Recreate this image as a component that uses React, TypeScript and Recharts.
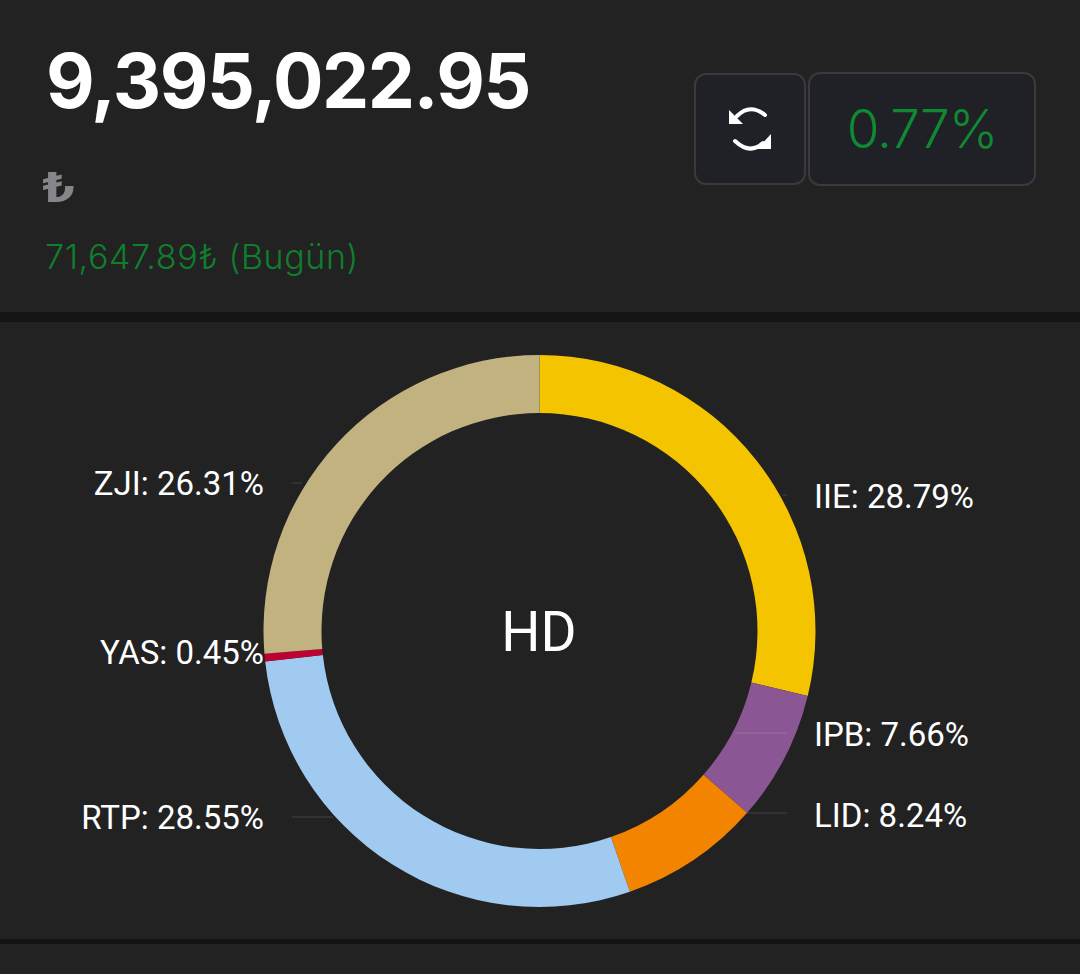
import { PieChart, Pie, Cell } from "recharts";

const NAMES = ["IIE", "IPB", "LID", "RTP", "YAS", "ZJI"];
const SHARES = [28.79, 7.66, 8.24, 28.55, 0.45, 26.31];
const COLORS = ["#F4C400", "#8A5794", "#F38400", "#A1CAF1", "#BE0032", "#C2B280"];

const chartData = NAMES.map((name, i) => ({ name, value: SHARES[i] }));

// label layout: text baseline, leader line y and where the leader reaches the slice
const LABEL_LAYOUT: Record<string, { y: number; lineY: number; lineEnd: number }> = {
  IIE: { y: 508, lineY: 495, lineEnd: 783 },
  IPB: { y: 746, lineY: 733, lineEnd: 735 },
  LID: { y: 827, lineY: 813, lineEnd: 747 },
  RTP: { y: 829, lineY: 817, lineEnd: 333 },
  YAS: { y: 664, lineY: 652, lineEnd: 264 },
  ZJI: { y: 495, lineY: 483, lineEnd: 302 },
};

function renderLabel(props: any) {
  const { name, value, cx } = props;
  const layout = LABEL_LAYOUT[name];
  const right = layout.lineEnd > cx;
  const lineStart = right ? 787 : 292;
  return (
    <g>
      {name !== "YAS" && (
        <line
          x1={lineStart}
          x2={layout.lineEnd}
          y1={layout.lineY}
          y2={layout.lineY}
          stroke="#ffffff"
          strokeOpacity={0.1}
          strokeWidth={1.5}
        />
      )}
      <text
        x={right ? 814 : 264}
        y={layout.y}
        textAnchor={right ? "start" : "end"}
        fill="#ffffff"
        fontFamily="Roboto"
        fontSize={33}
      >
        {`${name}: ${value.toFixed(2)}%`}
      </text>
    </g>
  );
}

export default function App() {
  return (
    <div style={{ position: "absolute", left: 0, top: 0, width: 1080, height: 974, background: "#222222", overflow: "hidden" }}>
      <div style={{ position: "absolute", left: 46, top: 35, fontFamily: "Inter", fontWeight: 700, fontSize: 75, lineHeight: "92px", color: "#fff", letterSpacing: -1.5, whiteSpace: "nowrap" }}>
        9,395,022.95
      </div>
      <div style={{ position: "absolute", left: 42, top: 165, fontFamily: "Roboto", fontWeight: 700, fontSize: 42, lineHeight: "46px", color: "#85868c", transform: "scaleX(1.35)", transformOrigin: "left" }}>
        ₺
      </div>
      <div style={{ position: "absolute", left: 45, top: 237, fontFamily: "Inter", fontWeight: 300, fontSize: 34, lineHeight: "40px", color: "#0f7f2e", letterSpacing: 0.6, whiteSpace: "nowrap" }}>
        71,647.89₺ (Bugün)
      </div>

      <div style={{ position: "absolute", left: 694, top: 73, width: 108, height: 108, background: "#1F2126", border: "2px solid #3a3a3c", borderRadius: 12 }}>
        <svg width={108} height={108} viewBox="0 0 108 108">
          <path d="M41 41 Q54 28 69 40" fill="none" stroke="#fff" strokeWidth={4} strokeLinecap="round" />
          <path d="M33 35 L33 49 L47 49 Z" fill="#fff" />
          <path d="M39 66 Q54 80 67 68" fill="none" stroke="#fff" strokeWidth={4} strokeLinecap="round" />
          <path d="M75 59 L75 74 L61 74 Z" fill="#fff" />
        </svg>
      </div>
      <div style={{ position: "absolute", left: 808, top: 72, width: 224, height: 110, background: "#1F2126", border: "2px solid #3a3a3c", borderRadius: 12, textAlign: "center", fontFamily: "Inter", fontWeight: 300, fontSize: 53, lineHeight: "110px", letterSpacing: -1, color: "#0f8a33" }}>
        0.77%
      </div>

      <div style={{ position: "absolute", left: 0, top: 312, width: 1080, height: 10, background: "#141414" }} />
      <div style={{ position: "absolute", left: 0, top: 939, width: 1080, height: 5, background: "#141414" }} />

      <div style={{ position: "absolute", left: 0, top: 0 }}>
        <PieChart width={1080} height={974} margin={{ top: 0, right: 0, bottom: 0, left: 0 }}>
          <Pie
            data={chartData}
            dataKey="value"
            nameKey="name"
            cx={539.5}
            cy={631}
            innerRadius={218}
            outerRadius={276}
            startAngle={90}
            endAngle={-270}
            stroke="none"
            label={renderLabel}
            labelLine={false}
            isAnimationActive={false}
          >
            {NAMES.map((name, i) => (
              <Cell key={name} fill={COLORS[i]} />
            ))}
          </Pie>
          <text x={539} y={651} textAnchor="middle" fill="#ffffff" fontFamily="Roboto" fontSize={55}>
            HD
          </text>
        </PieChart>
      </div>
    </div>
  );
}
